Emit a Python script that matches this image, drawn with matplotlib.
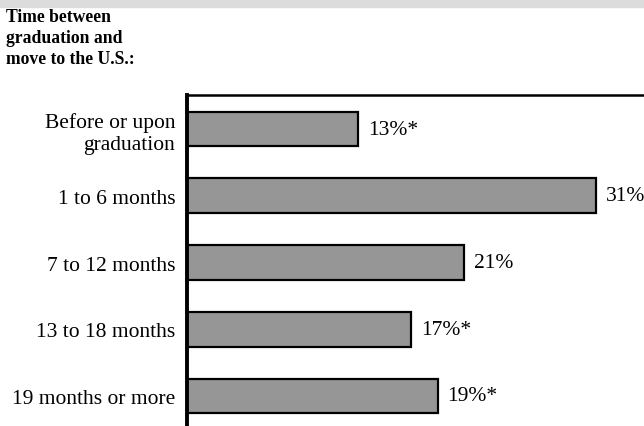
import matplotlib.pyplot as plt
from matplotlib.patches import Rectangle

# data
categories = ['Before or upon\ngraduation', '1 to 6 months', '7 to 12 months',
              '13 to 18 months', '19 months or more']
values = [13, 31, 21, 17, 19]
value_labels = ['13%*', '31%', '21%', '17%*', '19%*']

plt.rcParams['font.family'] = ['Liberation Serif', 'DejaVu Serif']

fig = plt.figure(figsize=(6.44, 4.27), dpi=100)

# gray band along the top
fig.patches.append(Rectangle((0, 1 - 8 / 427), 1, 8 / 427, transform=fig.transFigure,
                             color='#dcdcdc', zorder=0))

fig.text(6 / 644, 1 - 9 / 427, 'Time between\ngraduation and\nmove to the U.S.:',
         fontsize=12.7, fontweight='bold', va='top', ha='left', linespacing=1.3)

ax = fig.add_axes([187 / 644, 0, 1 - 187 / 644, 1 - 96 / 427])
y = range(len(categories))
ax.barh(y, values, height=0.52, color='#969696', edgecolor='black', linewidth=1.6)

for yi, v, lab in zip(y, values, value_labels):
    ax.text(v + 0.75, yi, lab, va='center', ha='left', fontsize=15.5)

ax.set_xlim(0, 34.65)
ax.set_ylim(4.45, -0.51)
ax.set_yticks(list(y))
ax.set_yticklabels(categories, fontsize=15.5, linespacing=1.25)
ax.tick_params(axis='y', length=0, pad=8.5)
ax.set_xticks([])

ax.spines['left'].set_linewidth(2.8)
ax.spines['top'].set_linewidth(1.8)
ax.spines['right'].set_visible(False)
ax.spines['bottom'].set_visible(False)

fig.savefig('out.png', dpi=100)
